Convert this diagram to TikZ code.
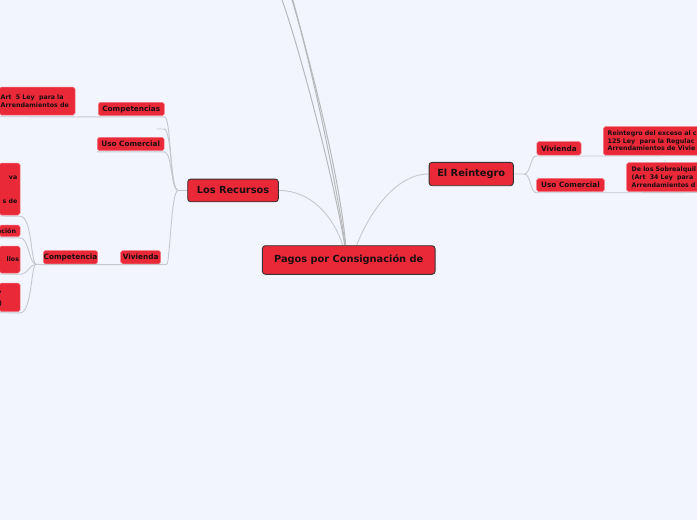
\documentclass[tikz,border=0pt]{standalone}
\usepackage{fontspec}
\setmainfont{DejaVu Sans}
\usetikzlibrary{backgrounds}
\definecolor{bg}{RGB}{242,245,254}
\definecolor{topicred}{RGB}{234,41,56}
\definecolor{edgered}{RGB}{244,120,132}
\definecolor{lin}{RGB}{198,200,206}
\definecolor{rootlin}{RGB}{184,184,188}
\definecolor{txt}{RGB}{26,14,16}
\begin{document}
\begin{tikzpicture}[x=1pt,y=-1pt,
  bigtopic/.style={fill=topicred, draw=black!80, line width=0.9pt, rounded corners=3pt, inner sep=0pt, text=txt, font=\fontsize{9.8}{11}\selectfont\bfseries},
  subtopic/.style={fill=topicred, draw=edgered, line width=0.5pt, rounded corners=1.8pt, inner sep=0pt, text=txt, minimum height=13.3pt, font=\fontsize{7.3}{8}\selectfont\bfseries},
  leafbox/.style={fill=topicred, draw=edgered, line width=0.5pt, rounded corners=1.8pt, inner sep=0pt},
  leaftext/.style={inner sep=0pt, text=txt, font=\fontsize{6.3}{7.7}\selectfont\bfseries},
  conn/.style={draw=lin, line width=0.9pt},
  rootconn/.style={draw=rootlin, line width=1pt}
]
\useasboundingbox (0,0) rectangle (697,520);
\clip (0,0) rectangle (697,520);

% main topics
\node[bigtopic, minimum width=172.7pt, minimum height=28.6pt] (root) at (348.7,260) {Pagos por Consignación de};
\node[bigtopic, minimum width=90.6pt, minimum height=22.7pt] (rec) at (233,190.4) {Los Recursos};
\node[bigtopic, minimum width=84.3pt, minimum height=23.4pt] (rei) at (471.2,174) {El Reintegro};

% sub topics
\node[subtopic, minimum width=66pt] (compL) at (131.3,109) {Competencias};
\node[subtopic, minimum width=66.7pt] (usoL) at (130.7,144) {Uso Comercial};
\node[subtopic, minimum width=40pt] (vivL) at (140.7,257.15) {Vivienda};
\node[subtopic, minimum width=54.4pt] (compet) at (70.5,257.15) {Competencia};
\node[subtopic, minimum width=44.3pt] (vivR) at (558.9,148.35) {Vivienda};
\node[subtopic, minimum width=67.6pt] (usoR) at (570.5,185) {Uso Comercial};

% leaves
\node[leafbox, leaftext, minimum width=75.5pt, minimum height=28pt, text width=73pt, align=left] (art) at (37.25,101) {Art\ \ 5 Ley\ \ para la\\Arrendamientos de};
\node[leafbox, leaftext, minimum width=116.7pt, minimum height=28.3pt, text width=107.9pt, align=left] (reint) at (661.65,140.85) {Reintegro del exceso al c\\125 Ley\ \ para la Regulac\\Arrendamientos de Vivie};
\node[leafbox, leaftext, minimum width=93.3pt, minimum height=29pt, text width=83.3pt, align=left] (sobre) at (673.35,177.2) {De los Sobrealquil\\(Art\ \ 34 Ley\ \ para\\Arrendamientos d};

\node[leafbox, minimum width=20.5pt, minimum height=52pt] (vaBox) at (9.75,189) {};
\node[leafbox, minimum width=20.5pt, minimum height=11.7pt] (acion) at (9.75,230.85) {};
\node[leafbox, minimum width=20.5pt, minimum height=27pt] (llos) at (9.75,259.5) {};
\node[leafbox, minimum width=20.5pt, minimum height=28.7pt] (box5) at (9.75,297.35) {};
\node[leaftext, anchor=east, align=right] (vaT) at (17.5,190) {va\\[16pt]s de};
\node[leaftext, anchor=east] (acionT) at (16.2,230.8) {ación};
\node[leaftext, anchor=east] (llosT) at (19.2,259.5) {llos};
\node[leaftext, anchor=east] (c1) at (2,292.5) {,};
\node[leaftext, anchor=east] (c2) at (2.2,304) {)};

% free ends and junctions
\coordinate (topA) at (281.7,-1);
\coordinate (topB) at (291.7,-1);
\coordinate (topC) at (292.6,-1);
\coordinate (jL) at (178,190.4);
\coordinate (jC) at (36,264.3);
\coordinate (jR) at (524,174);
\coordinate (emptyE) at (156.7,129);
\coordinate (leftA) at (0,116.7);
\coordinate (leftB) at (0,216);
\coordinate (leftC) at (0,237.7);
\coordinate (leftD) at (0,274);
\coordinate (leftE) at (0,312.7);
\coordinate (rightA) at (697,155.7);
\coordinate (rightB) at (697,192.5);

\begin{pgfonlayer}{background}
\fill[bg] (-2,-2) rectangle (699,522);
% root connectors
\draw[rootconn] ([xshift=-4pt]root.north) .. controls (334,180) and (300,50) .. (topA);
\draw[rootconn] ([xshift=-3.5pt]root.north) .. controls (336,180) and (308,50) .. (topB);
\draw[rootconn] ([xshift=-3pt]root.north) .. controls (339,170) and (309,60) .. (topC);
\draw[conn] (rec.east) .. controls (310,190.4) and (333,215) .. ([xshift=-6pt]root.north);
\draw[conn] ([xshift=8pt]root.north) .. controls (368,215) and (395,174) .. (rei.west);
% left branch
\draw[conn] (rec.west) -- (jL) .. controls (170,190.4) and (171,116.7) .. ([yshift=-1pt]compL.south east) -- ([yshift=-1pt]compL.south west) -- ([yshift=-1.7pt]art.south east) -- (leftA);
\draw[conn] (jL) .. controls (170,190.4) and (172,129) .. (164,129) -- (emptyE);
\draw[conn] (jL) .. controls (171,190.4) and (172,151.7) .. ([yshift=-1pt]usoL.south east) -- ([yshift=-1pt]usoL.south west);
\draw[conn] (jL) .. controls (171,190.4) and (170,264.3) .. (166.7,264.3) -- ([yshift=-0.5pt]vivL.south east) -- ([yshift=-0.5pt]vivL.south west) -- ([yshift=-0.5pt]compet.south east) -- ([yshift=-0.5pt]compet.south west) -- (jC);
\draw[conn] (jC) .. controls (31,264.3) and (32,216) .. ([yshift=-1pt]vaBox.south east) -- (leftB);
\draw[conn] (jC) .. controls (29,264.3) and (29,237.7) .. ([yshift=-1pt]acion.south east) -- (leftC);
\draw[conn] (jC) .. controls (29,264.3) and (29,274) .. ([yshift=-1pt]llos.south east) -- (leftD);
\draw[conn] (jC) .. controls (31,264.3) and (32,312.7) .. ([yshift=-1pt]box5.south east) -- (leftE);
% right branch
\draw[conn] (rei.east) -- (jR) .. controls (531,174) and (530,155.7) .. ([yshift=-0.7pt]vivR.south west) -- ([yshift=-0.7pt]vivR.south east) -- ([yshift=-0.7pt]reint.south west) -- (rightA);
\draw[conn] (jR) .. controls (531,174) and (530,192.5) .. ([yshift=-0.8pt]usoR.south west) -- ([yshift=-0.8pt]usoR.south east) -- ([yshift=-0.8pt]sobre.south west) -- (rightB);
\end{pgfonlayer}
\end{tikzpicture}
\end{document}
